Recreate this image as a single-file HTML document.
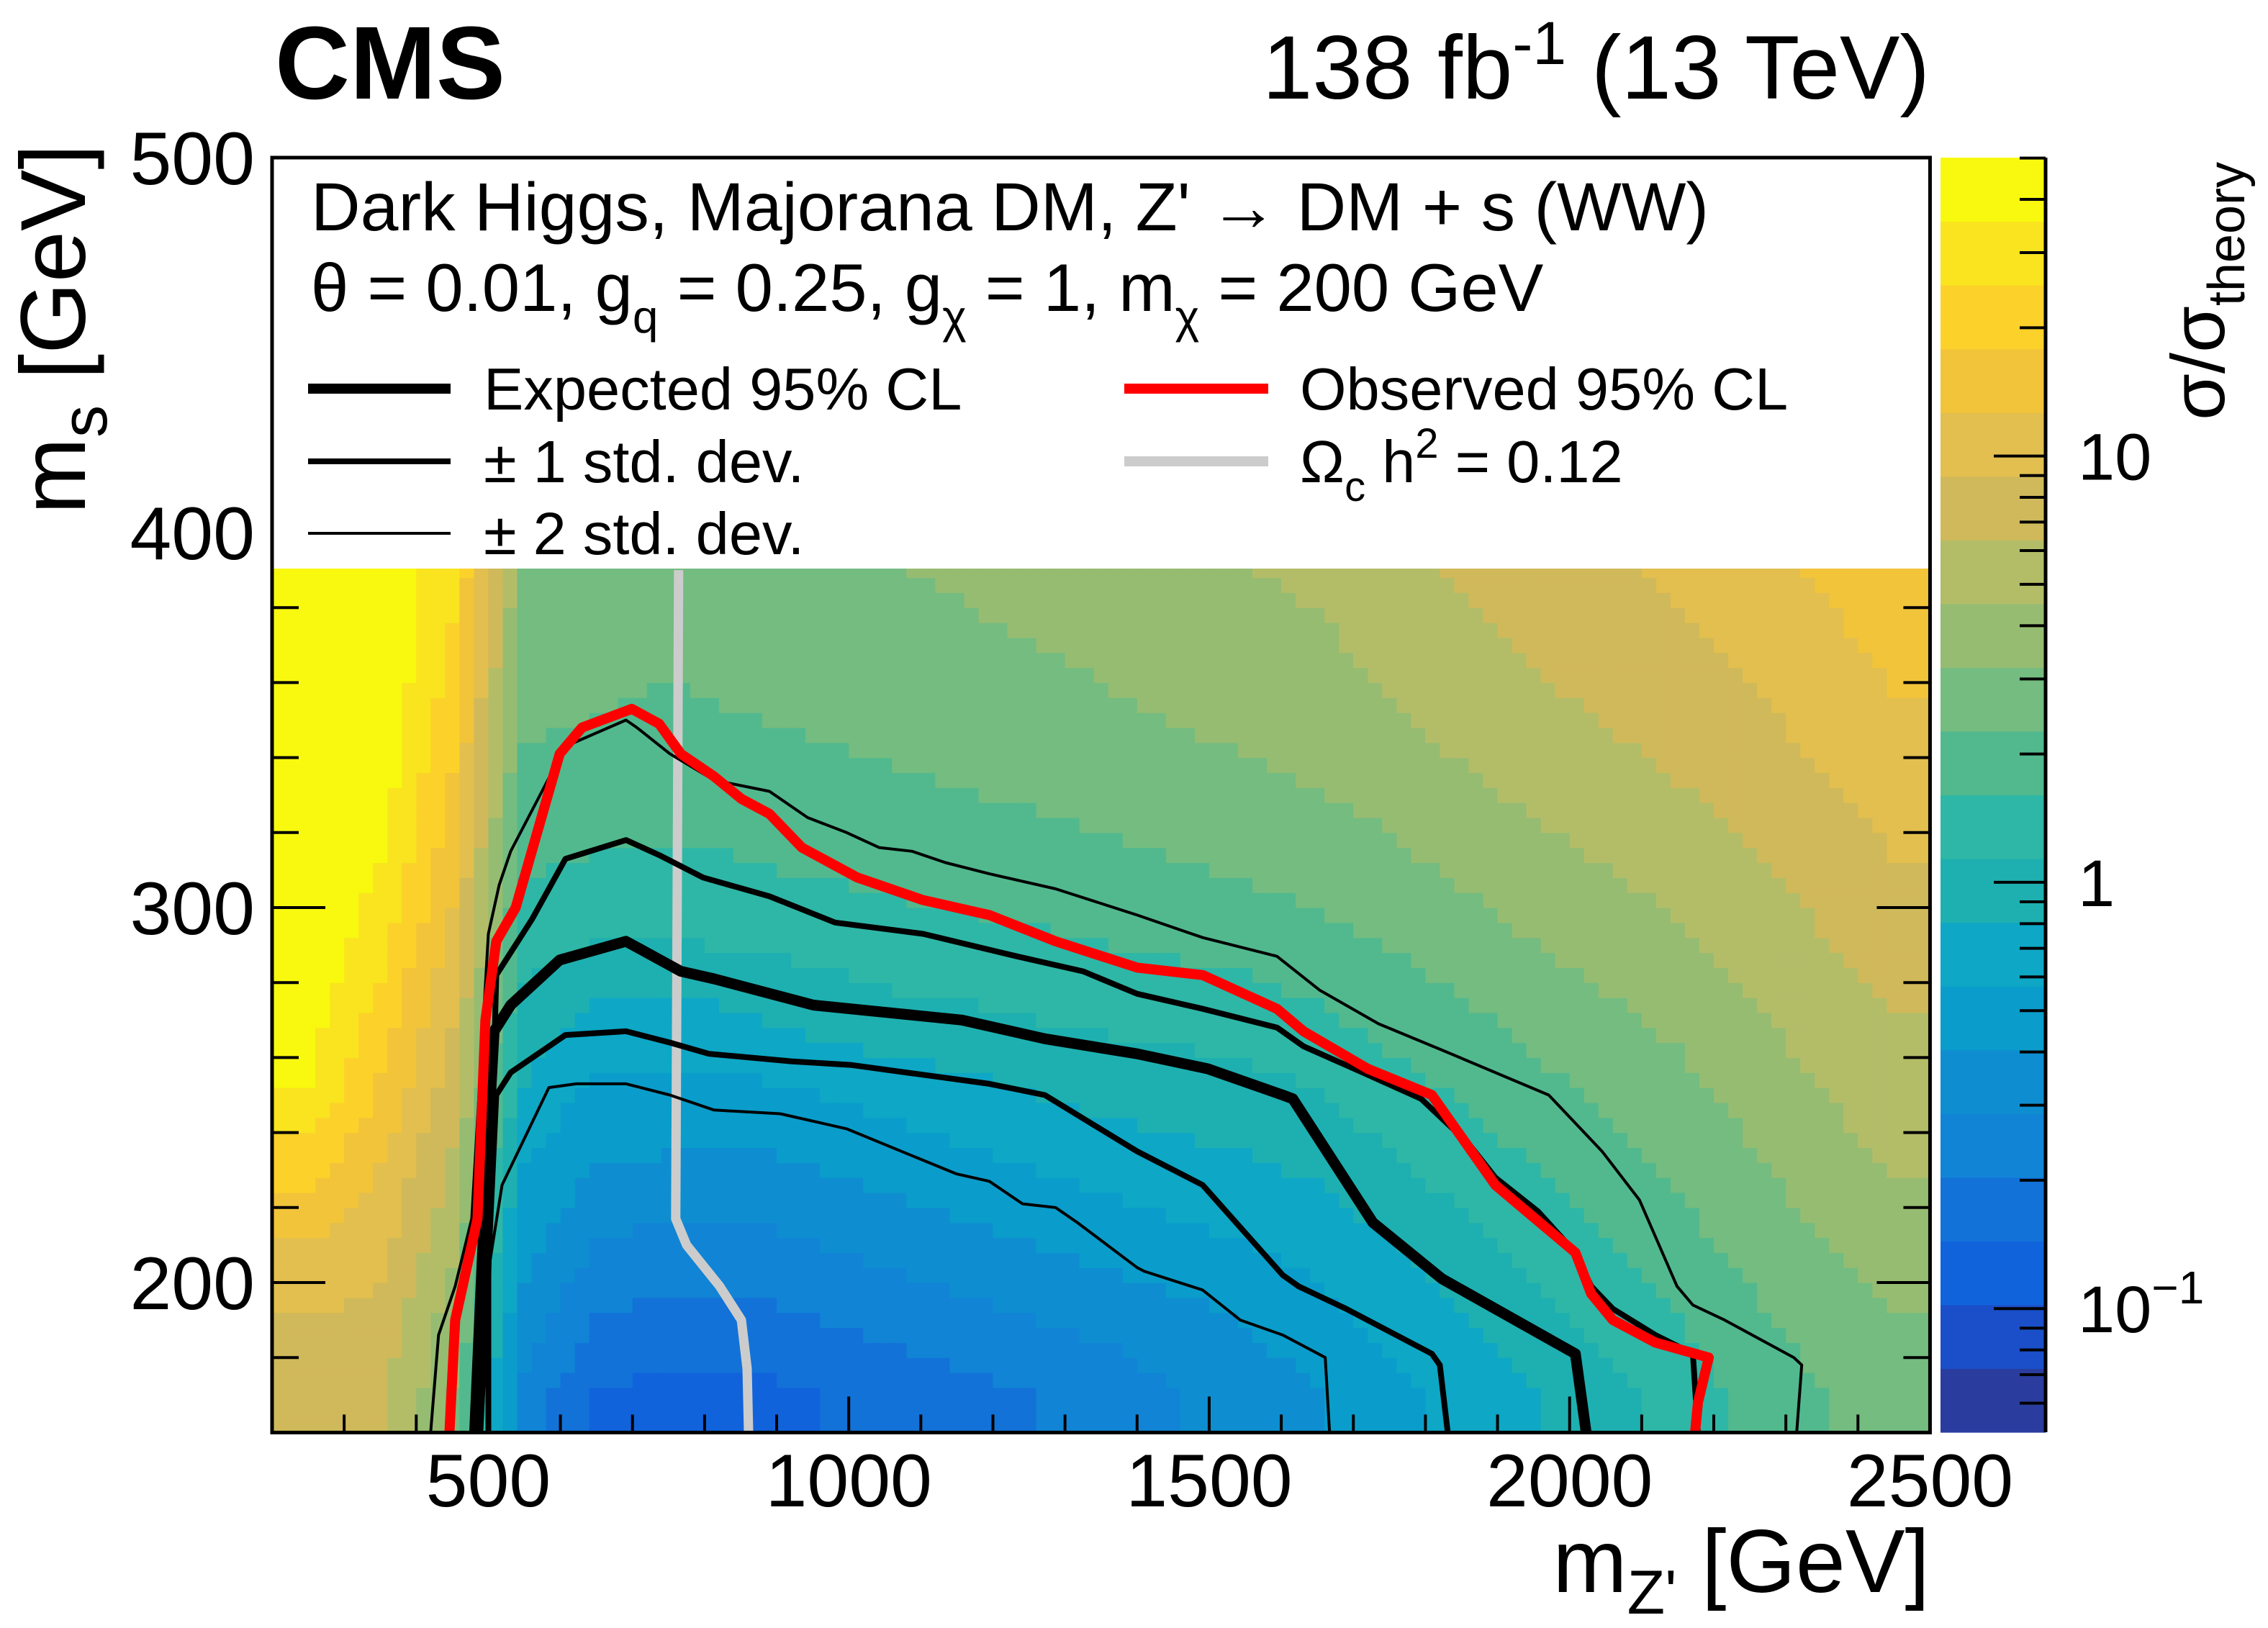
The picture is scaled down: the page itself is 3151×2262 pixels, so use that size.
<!DOCTYPE html>
<html><head><meta charset="utf-8">
<style>
html,body{margin:0;padding:0;background:#fff;}
svg{display:block;font-family:"Liberation Sans",Arial,sans-serif;}
</style></head>
<body>
<svg id="chart" width="3151" height="2262" viewBox="0 0 3151 2262" xmlns="http://www.w3.org/2000/svg">
  <rect x="0" y="0" width="3151" height="2262" fill="#fff"/>
  <g id="heat"></g>
  <g id="cbar"></g>
  <rect x="380" y="221" width="2299" height="569" fill="#fff"/>
  <g id="curves"></g>
  <g id="axes"></g>

  <text x="382" y="137" font-size="144" font-weight="bold">CMS</text>
  <text x="2681" y="137" font-size="125" text-anchor="end">138 fb<tspan font-size="84" dy="-48">-1</tspan><tspan dy="48"> (13 TeV)</tspan></text>

  <text x="432" y="320" font-size="95">Dark Higgs, Majorana DM, Z' → DM + s (WW)</text>
  <text x="432" y="432" font-size="94">θ = 0.01, g<tspan font-size="64" dy="30">q</tspan><tspan dy="-30"> = 0.25, g</tspan><tspan font-size="64" dy="30">χ</tspan><tspan dy="-30"> = 1, m</tspan><tspan font-size="64" dy="30">χ</tspan><tspan dy="-30"> = 200 GeV</tspan></text>

  <g>
    <line x1="428" y1="540" x2="626" y2="540" stroke="#000" stroke-width="14"/>
    <text x="672" y="569" font-size="83">Expected 95% CL</text>
  </g>
  <g>
    <line x1="428" y1="641" x2="626" y2="641" stroke="#000" stroke-width="8"/>
    <text x="672" y="670" font-size="83">± 1 std. dev.</text>
  </g>
  <g>
    <line x1="428" y1="741" x2="626" y2="741" stroke="#000" stroke-width="4"/>
    <text x="672" y="770" font-size="83">± 2 std. dev.</text>
  </g>
  <g>
    <line x1="1562" y1="540" x2="1762" y2="540" stroke="#ff0000" stroke-width="14"/>
    <text x="1806" y="569" font-size="83">Observed 95% CL</text>
  </g>
  <g>
    <line x1="1562" y1="641" x2="1762" y2="641" stroke="#cccccc" stroke-width="14"/>
    <text x="1806" y="670" font-size="83">Ω<tspan font-size="58" dy="26">c</tspan><tspan dy="-26"> h</tspan><tspan font-size="58" dy="-34">2</tspan><tspan dy="34"> = 0.12</tspan></text>
  </g>

  <text x="2681" y="2212" font-size="124" text-anchor="end">m<tspan font-size="86" dy="30">Z'</tspan><tspan dy="-30"> [GeV]</tspan></text>
  <text transform="translate(118,200) rotate(-90)" font-size="128" text-anchor="end">m<tspan font-size="90" dy="30">s</tspan><tspan dy="-30"> [GeV]</tspan></text>
  <text transform="translate(3090,225) rotate(-90)" font-size="105" text-anchor="end">σ/σ<tspan font-size="72" dy="28">theory</tspan></text>
</svg>
<script>
// ---------- data ----------
const xCenters = [250,350,450,550,650,750,850,950,1050,1150,1250,1350,1450,1550,1650,1750,1850,1950,2050,2150,2250,2350,2450];
const yCenters = [170,190,210,230,250,270,290,310,330,350,370,390];
// log10(sigma/sigma_theory), one array per column (bottom -> top)
const zCols = [
 [0.85,0.95,1.10,1.30,1.55,1.62,1.68,1.70,1.70,1.70,1.70,1.70],
 [0.85,0.90,1.00,1.10,1.22,1.33,1.45,1.55,1.62,1.68,1.70,1.70],
 [0.50,0.58,0.68,0.78,0.88,0.97,1.06,1.15,1.23,1.31,1.38,1.45],
 [-0.60,-0.45,-0.35,-0.25,-0.10,0.00,0.12,0.22,0.30,0.38,0.44,0.50],
 [-0.85,-0.70,-0.55,-0.40,-0.30,-0.15,0.05,0.18,0.27,0.35,0.40,0.45],
 [-0.90,-0.75,-0.60,-0.42,-0.30,-0.15,0.04,0.17,0.26,0.33,0.38,0.42],
 [-0.90,-0.75,-0.60,-0.45,-0.30,-0.12,0.07,0.19,0.28,0.35,0.40,0.45],
 [-0.85,-0.70,-0.55,-0.40,-0.25,-0.05,0.10,0.22,0.30,0.37,0.43,0.48],
 [-0.80,-0.65,-0.50,-0.35,-0.20,0.00,0.13,0.24,0.32,0.40,0.45,0.50],
 [-0.75,-0.60,-0.45,-0.30,-0.15,0.02,0.16,0.26,0.35,0.42,0.48,0.52],
 [-0.70,-0.55,-0.40,-0.25,-0.10,0.05,0.18,0.28,0.37,0.45,0.50,0.55],
 [-0.65,-0.50,-0.35,-0.20,-0.05,0.08,0.20,0.31,0.40,0.48,0.53,0.58],
 [-0.55,-0.45,-0.30,-0.15,-0.03,0.10,0.23,0.34,0.43,0.51,0.57,0.62],
 [-0.50,-0.38,-0.25,-0.12,0.00,0.12,0.26,0.37,0.46,0.54,0.60,0.65],
 [-0.40,-0.30,-0.20,-0.07,0.05,0.18,0.30,0.41,0.50,0.57,0.63,0.68],
 [-0.30,-0.20,-0.10,0.02,0.14,0.25,0.36,0.46,0.55,0.63,0.69,0.75],
 [-0.20,-0.10,0.00,0.12,0.22,0.32,0.43,0.53,0.62,0.70,0.76,0.82],
 [-0.10,0.00,0.10,0.20,0.30,0.40,0.50,0.59,0.68,0.76,0.82,0.88],
 [0.00,0.10,0.20,0.30,0.38,0.47,0.56,0.65,0.74,0.81,0.87,0.93],
 [0.10,0.20,0.30,0.38,0.45,0.54,0.63,0.71,0.79,0.86,0.92,0.98],
 [0.25,0.32,0.40,0.48,0.55,0.63,0.70,0.78,0.85,0.92,0.99,1.05],
 [0.35,0.42,0.50,0.58,0.65,0.72,0.79,0.86,0.93,1.00,1.06,1.12],
 [0.42,0.50,0.58,0.66,0.73,0.80,0.87,0.94,1.01,1.08,1.14,1.20]
];
const bandColors = ["#2a3d9e","#1a4fc9","#1163dc","#1272d8","#1184d6","#0e8ed0","#0a9dcb","#0ea7c6","#1eb0b0","#2eb7a6","#52b98e","#74bc80","#96bc72","#b3bd68","#d0b95a","#e2bf4e","#f2c43a","#fcd22a","#f9e41f","#f8f90f"];

const expected = [[481,160],[489,195],[496,225],[508,267],[531,274],[599,286],[691,291],[767,283],[813,281],[951,274],[1157,270],[1272,265],[1400,261],[1498,257],[1602,250],[1616,249],[1727,216],[1823,201],[2008,181],[2023,160]];
const plus1 = [[500,160],[500,202],[511,282],[561,297],[607,313],[691,318],[737,314],[798,308],[890,303],[981,296],[1103,293],[1233,287],[1325,283],[1400,277],[1491,273],[1594,268],[1631,263],[1713,256],[1794,249],[1860,237],[1897,228],[1956,219],[2008,208],[2030,199],[2060,193],[2119,186],[2171,181],[2178,160]];
const minus1 = [[489,160],[500,205],[511,250],[531,256],[607,266],[691,267],[752,264],[806,261],[920,259],[1004,258],[1195,253],[1272,250],[1400,235],[1491,226],[1602,202],[1624,199],[1690,193],[1809,181],[1820,178],[1831,160]];
const plus2 = [[420,160],[431,186],[454,199],[477,217],[500,293],[515,306],[531,315],[607,343],[691,350],[706,348],[752,341],[813,334],[890,331],[943,324],[997,320],[1042,316],[1088,315],[1134,312],[1195,309],[1287,305],[1400,298],[1491,292],[1594,287],[1653,278],[1735,269],[1823,262],[1971,250],[2045,235],[2097,222],[2149,199],[2171,194],[2215,190],[2311,180],[2322,178],[2315,160]];
const minus2 = [[491,160],[496,198],[519,226],[584,252],[622,253],[691,253],[752,250],[813,246],[905,245],[997,241],[1073,235],[1149,229],[1195,227],[1241,221],[1287,220],[1317,216],[1400,204],[1410,203],[1491,198],[1543,190],[1602,186],[1661,180],[1667,160]];
const observed = [[446,160],[454,190],[485,217],[496,270],[511,291],[538,300],[599,341],[630,348],[699,353],[737,349],[767,341],[813,335],[851,329],[890,325],[935,316],[1012,308],[1103,302],[1195,298],[1287,291],[1400,284],[1491,282],[1594,273],[1631,267],[1720,257],[1809,250],[1897,226],[2008,208],[2030,197],[2060,190],[2119,184],[2193,180],[2178,168],[2174,160]];
const relic = [[764,390],[762,300],[760,217],[775,210],[821,199],[851,190],[859,177],[861,160]];

const xTicks = [500,1000,1500,2000,2500];
const xTickLabels = ["500","1000","1500","2000","2500"];
const yTicks = [200,300,400,500];
const yTickLabels = ["200","300","400","500"];
const zTicks = [1,0,-1];

// ---------- scales ----------
const XMIN=200, XMAX=2500, YMIN=160, YMAX=500, HEATTOP=390.4;
const ZMIN=-1.29, ZMAX=1.70;
const X = x => 378 + (x - XMIN) * 1.0015;
const Y = y => 219 + (YMAX - y) * 5.21;
const Z = l => 1990 - (l - ZMIN) * (1771 / (ZMAX - ZMIN));
const NS = "http://www.w3.org/2000/svg";
function mk(tag, attrs, parent){ const e=document.createElementNS(NS,tag); for(const k in attrs) e.setAttribute(k,attrs[k]); parent.appendChild(e); return e; }
function band(l){ let k=Math.floor((l-ZMIN)/((ZMAX-ZMIN)/20)); return bandColors[Math.max(0,Math.min(19,k))]; }
function idx(arr,v){ if(v<=arr[0]) return [0,0,0]; if(v>=arr[arr.length-1]) return [arr.length-1,arr.length-1,0];
  for(let i=0;i<arr.length-1;i++){ if(v>=arr[i]&&v<=arr[i+1]) return [i,i+1,(v-arr[i])/(arr[i+1]-arr[i])]; } }
function field(x,y){ const [i0,i1,tx]=idx(xCenters,x), [j0,j1,ty]=idx(yCenters,y);
  const a=zCols[i0][j0]*(1-tx)+zCols[i1][j0]*tx, b=zCols[i0][j1]*(1-tx)+zCols[i1][j1]*tx; return a*(1-ty)+b*ty; }

// ---------- heatmap ----------
const heat=document.getElementById('heat');
const DX=20, DY=4;
for(let x=XMIN; x<XMAX; x+=DX){
  for(let y=YMIN; y<HEATTOP; y+=DY){
    const y2=Math.min(y+DY,HEATTOP);
    const r=mk('rect',{x:X(x),y:Y(y2),width:X(x+DX)-X(x)+0.6,height:Y(y)-Y(y2)+0.6,fill:band(field(x+DX/2,(y+y2)/2))},heat);
    
    
  }
}

// ---------- color bar ----------
const cb=document.getElementById('cbar');
for(let k=0;k<20;k++){
  const l0=ZMIN+k*(ZMAX-ZMIN)/20, l1=ZMIN+(k+1)*(ZMAX-ZMIN)/20;
  const r=mk('rect',{x:2696,y:Z(l1),width:146,height:Z(l0)-Z(l1)+0.6,fill:bandColors[k]},cb);
  
  
}
mk('line',{x1:2842,y1:219,x2:2842,y2:1990,stroke:'#000','stroke-width':5},cb);
for(let d=-2; d<=1; d++){
  for(let m=1;m<=9;m++){
    const l=d+Math.log10(m); if(l<ZMIN||l>ZMAX) continue;
    const len=(m===1)?72:36;
    const t=mk('line',{x1:2842-len,y1:Z(l),x2:2842,y2:Z(l),stroke:'#000','stroke-width':4},cb);
    
    
  }
}
zTicks.forEach(l=>{
  const t=mk('text',{x:2887,y:Z(l)+33,'font-size':92},cb);
  
  
  if(l===0) t.textContent='1';
  else if(l===1) t.textContent='10';
  else { t.textContent='10'; const s=mk('tspan',{dy:-40,'font-size':64},t); s.textContent='\u22121'; }
});

// ---------- curves ----------
const cv=document.getElementById('curves');
function curve(pts,color,w,name){
  const p=mk('polyline',{points:pts.map(q=>X(q[0]).toFixed(1)+','+Y(q[1]).toFixed(1)).join(' '),fill:'none',stroke:color,'stroke-width':w,'stroke-linejoin':'round','stroke-linecap':'butt'},cv);
  
  
}
curve(relic,'#cccccc',13,'relic-density-curve');
curve(plus2,'#000',4,'expected-plus-2sigma');
curve(minus2,'#000',4,'expected-minus-2sigma');
curve(plus1,'#000',8,'expected-plus-1sigma');
curve(minus1,'#000',8,'expected-minus-1sigma');
curve(expected,'#000',15,'expected-limit');
curve(observed,'#ff0000',14,'observed-limit');

// ---------- axes ----------
const ax=document.getElementById('axes');
mk('rect',{x:X(XMIN),y:Y(YMAX),width:X(XMAX)-X(XMIN),height:Y(YMIN)-Y(YMAX),fill:'none',stroke:'#000','stroke-width':5},ax);
for(let x=300;x<XMAX;x+=100){
  const major=(x%500===0), len=major?50:25;
  mk('line',{x1:X(x),y1:Y(YMIN),x2:X(x),y2:Y(YMIN)-len,stroke:'#000','stroke-width':4},ax);
}
for(let y=YMIN+20;y<HEATTOP;y+=20){
  const major=(y%100===0), len=major?74:37;
  mk('line',{x1:X(XMIN),y1:Y(y),x2:X(XMIN)+len,y2:Y(y),stroke:'#000','stroke-width':4},ax);
  mk('line',{x1:X(XMAX),y1:Y(y),x2:X(XMAX)-len,y2:Y(y),stroke:'#000','stroke-width':4},ax);
}
xTicks.forEach((v,i)=>{
  const t=mk('text',{x:X(v),y:2093,'font-size':104,'text-anchor':'middle'},ax);
  
  
  t.textContent=xTickLabels[i];
});
yTicks.forEach((v,i)=>{
  const t=mk('text',{x:354,y:Y(v)+37,'font-size':104,'text-anchor':'end'},ax);
  
  
  t.textContent=yTickLabels[i];
});
</script>
</body></html>
